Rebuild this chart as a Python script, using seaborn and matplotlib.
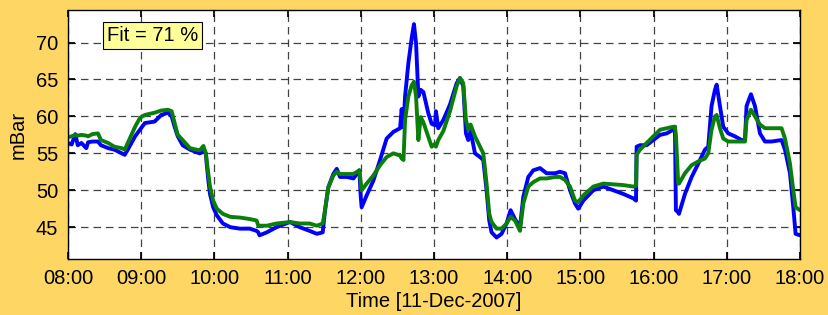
import pandas as pd
import matplotlib.pyplot as plt
import matplotlib.dates as mdates
import seaborn as sns

# minutes after 08:00 on 11-Dec-2007
minutes = [0, 3, 6, 8, 11, 15, 16.5, 20, 24.6, 27, 33, 38, 44, 46.5, 49, 55, 59, 63, 71,
           76.5, 82, 85, 87.4, 90, 94, 100, 108, 111, 113, 113.7, 115, 116.4, 119, 122,
           127, 133, 141, 149, 154.6, 156, 157, 163, 171, 182, 190, 198, 204, 208.8,
           210.7, 213.4, 217.5, 220.3, 223, 228.5, 234, 238.8, 240, 240.7, 244.8, 250.3,
           255.8, 261.2, 266.7, 272.2, 273.5, 275, 276.3, 279, 281.7, 283.6, 285.3, 287.2,
           289.1, 291.3, 295.4, 298.1, 300.9, 301.6, 303.5, 307.6, 313.1, 318.6, 321.3,
           324, 326.2, 328.1, 330, 333.6, 337.7, 340.4, 343.1, 345.3, 347.2, 351.3, 355.4,
           359.5, 362.8, 366.4, 370.5, 373.2, 377.3, 381.4, 386.9, 392.3, 399.2, 403.3,
           407.4, 411.5, 415.6, 418.3, 422.4, 430.6, 438.8, 447, 455.2, 463.4, 465.6,
           466.1, 468.9, 474.3, 479.8, 485.3, 490.7, 496.2, 497.5, 498.3, 500.2, 500.8,
           505.7, 511.2, 516.6, 522.1, 524.8, 527.5, 530.3, 531.7, 534.4, 537.1, 541.2,
           546.7, 552.1, 554.9, 556.2, 559.8, 563.1, 567.2, 571.3, 576.7, 584.9, 587.7,
           591.8, 594.5, 596.4, 600]

measured = [56.4, 56.2, 57.6, 56.1, 56.4, 55.7, 56.5, 56.6, 56.6, 56.1, 55.7, 55.5, 55.0,
            54.8, 55.5, 57.3, 58.2, 59.1, 59.3, 60.2, 60.5, 60.0, 58.6, 57.3, 56.1, 55.5,
            55.0, 55.2, 55.0, 53.6, 51.4, 49.5, 47.7, 46.6, 45.5, 45.0, 44.8, 44.8, 44.5,
            44.3, 43.9, 44.3, 45.0, 45.7, 45.0, 44.5, 44.1, 44.3, 47.3, 50.4, 52.2, 52.9,
            51.8, 51.8, 51.6, 52.7, 49.1, 47.7, 49.3, 51.3, 54.1, 57.0, 57.9, 58.4, 61.0,
            58.5, 62.7, 67.2, 70.6, 72.5, 69.9, 62.7, 63.6, 63.3, 60.4, 59.0, 58.8, 60.7,
            58.4, 59.5, 61.6, 64.5, 65.2, 64.1, 57.7, 56.8, 58.0, 55.0, 54.5, 54.1, 50.0,
            45.9, 44.3, 43.6, 44.1, 45.5, 47.3, 46.1, 45.0, 49.1, 51.8, 52.7, 53.0, 52.3,
            52.3, 52.5, 52.3, 50.0, 48.2, 47.5, 48.6, 50.0, 50.5, 50.0, 49.5, 48.9, 48.6,
            55.9, 56.1, 56.1, 56.8, 57.5, 57.7, 58.2, 58.6, 47.3, 47.0, 46.8, 49.5, 51.8,
            53.6, 55.5, 55.9, 61.4, 63.6, 64.3, 61.4, 58.6, 57.7, 57.3, 56.8, 56.8, 61.4,
            63.0, 61.4, 57.7, 56.6, 56.6, 56.8, 55.5, 52.3, 47.7, 44.1, 43.9]

simulated = [57.2, 57.3, 57.5, 57.4, 57.5, 57.4, 57.3, 57.6, 57.7, 56.8, 56.4, 55.9, 55.7,
             55.5, 56.4, 58.6, 59.8, 60.2, 60.5, 60.8, 60.9, 60.7, 59.1, 57.5, 56.8, 55.7,
             55.4, 56.0, 55.0, 54.0, 52.3, 50.5, 48.6, 47.5, 46.8, 46.4, 46.3, 46.1, 45.9,
             45.2, 45.2, 45.2, 45.5, 45.7, 45.5, 45.5, 45.2, 45.5, 47.3, 50.4, 52.0, 52.5,
             52.2, 52.2, 52.2, 52.7, 51.0, 50.0, 50.9, 52.0, 53.4, 54.5, 55.0, 54.7, 54.3,
             54.1, 59.5, 62.7, 64.2, 64.7, 62.7, 56.8, 59.9, 59.2, 57.2, 55.9, 56.3, 55.9,
             56.8, 58.0, 60.7, 64.1, 65.2, 64.5, 59.5, 58.2, 58.9, 57.3, 55.9, 55.0, 50.9,
             46.8, 45.7, 44.8, 44.8, 45.5, 46.4, 45.9, 44.5, 48.2, 50.5, 51.1, 51.6, 51.6,
             51.8, 51.8, 51.4, 50.5, 48.6, 48.4, 49.3, 50.5, 50.9, 50.8, 50.7, 50.5, 50.6,
             54.8, 55.5, 56.4, 57.3, 58.2, 58.4, 58.6, 58.6, 57.5, 50.9, 50.9, 52.3, 53.4,
             53.9, 54.3, 55.0, 58.2, 60.0, 60.2, 58.4, 57.0, 56.6, 56.6, 56.6, 56.6, 59.5,
             60.9, 60.0, 58.9, 58.4, 58.4, 58.4, 57.0, 53.6, 50.0, 47.7, 47.3]

fit_text = 'Fit = 71 %'
y_ticks = [45, 50, 55, 60, 65, 70]

start = pd.Timestamp('2007-12-11 08:00')
df = pd.DataFrame({
    'time': start + pd.to_timedelta(minutes, unit='min'),
    'measured': measured,
    'simulated': simulated,
})

sns.set_theme(style='ticks')
plt.rcParams['font.family'] = ['Liberation Sans', 'DejaVu Sans']

bg = '#FDD663'
fig = plt.figure(figsize=(8.29, 3.15), dpi=100, facecolor=bg)
ax = fig.add_axes([0.082, 0.178, 0.883, 0.79])
ax.set_facecolor('white')

sns.lineplot(data=df, x='time', y='measured', ax=ax, color='#0000FF', linewidth=2.8,
             estimator=None, sort=False)
sns.lineplot(data=df, x='time', y='simulated', ax=ax, color='#0A800A', linewidth=2.8,
             estimator=None, sort=False)

ax.set_xlim(start, start + pd.Timedelta(hours=10))
ax.set_ylim(40.7, 74.4)
ax.set_yticks(y_ticks)
ax.xaxis.set_major_locator(mdates.HourLocator())
ax.xaxis.set_major_formatter(mdates.DateFormatter('%H:%M'))

ax.grid(True, color='#222222', linestyle=(0, (6, 4)), linewidth=0.9, alpha=0.85)
ax.tick_params(direction='in', top=True, right=True, labelsize=14.5, length=5,
               color='black', labelcolor='black', pad=7)
for s in ax.spines.values():
    s.set_color('black')
    s.set_linewidth(1.0)

ax.set_xlabel('Time [11-Dec-2007]', fontsize=14.5, color='black', labelpad=3)
ax.set_ylabel('mBar', fontsize=14.5, color='black', labelpad=6)

ax.text(0.115, 0.896, fit_text, transform=ax.transAxes, fontsize=14.5,
        ha='center', va='center', color='black',
        bbox=dict(boxstyle='square,pad=0.2', facecolor='#FFFF99', edgecolor='black',
                  linewidth=0.8))

plt.savefig('out.png', dpi=100, facecolor=bg)
